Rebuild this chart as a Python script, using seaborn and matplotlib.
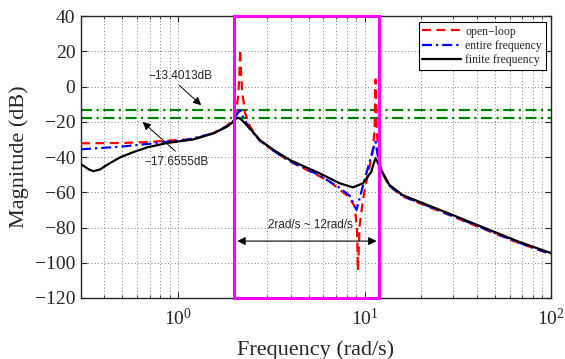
import matplotlib
matplotlib.use("Agg")
import matplotlib.pyplot as plt
from matplotlib.patches import Rectangle
import seaborn as sns
import pandas as pd

# values (frequency in rad/s, magnitude in dB)
freq_open = [0.30, 0.50, 0.68, 0.87, 1.2, 1.54, 1.82, 1.97, 2.05, 2.10, 2.13, 2.146, 2.17, 2.20,
             2.28, 2.43, 2.74, 3.3, 3.97, 5.75, 6.5, 7.35, 8.31, 8.85, 9.1, 9.21, 9.39, 9.8,
             10.4, 11.0, 11.3, 11.45, 11.6, 12.0, 12.4, 13.6, 16.0, 19.7, 29.7, 44.7, 67.4, 100]
mag_open = [-32.2, -32.0, -31.5, -30.7, -29.8, -26.4, -22.3, -19.0, -13.0, -4.0, 10.0, 21.0, 8.0, -3.0,
            -15.0, -22.8, -30.8, -37.0, -42.5, -51.0, -54.0, -58.5, -63.0, -68.2, -81.4, -104.5, -79.5, -64.0,
            -50.0, -38.0, -25.0, 4.0, -25.0, -42.0, -49.0, -56.5, -62.3, -66.2, -73.7, -81.3, -88.8, -95.2]

freq_entire = [0.30, 0.49, 0.68, 0.87, 1.1, 1.54, 1.82, 1.97, 2.08, 2.146, 2.22, 2.4, 2.74, 3.3,
               3.97, 5.75, 7.35, 8.31, 8.85, 9.05, 9.39, 9.99, 10.8, 11.3, 11.45, 11.7, 12.28, 13.6,
               16.0, 19.7, 29.7, 44.7, 67.4, 100]
mag_entire = [-35.6, -34.1, -32.6, -31.3, -30.3, -26.5, -22.5, -19.5, -15.0, -13.4, -17.0, -23.5, -30.6, -37.0,
              -42.3, -50.5, -57.5, -62.0, -68.0, -70.0, -63.5, -53.0, -40.0, -33.0, -31.3, -38.0, -47.8, -56.3,
              -62.1, -65.9, -73.4, -81.0, -88.6, -95.0]

freq_finite = [0.30, 0.33, 0.35, 0.38, 0.42, 0.49, 0.58, 0.68, 0.87, 1.2, 1.54, 1.82, 1.97, 2.04,
               2.10, 2.17, 2.4, 2.74, 3.3, 3.97, 5.75, 7.35, 8.66, 9.8, 10.86, 11.2, 11.45, 11.75,
               12.28, 13.6, 16.0, 19.7, 29.7, 44.7, 67.4, 100]
mag_finite = [-44.0, -47.0, -48.0, -47.0, -44.0, -40.0, -37.0, -34.5, -32.0, -30.0, -26.6, -22.8, -20.0, -18.2,
              -17.66, -18.6, -23.3, -30.4, -36.5, -41.7, -49.3, -54.9, -57.2, -54.9, -48.3, -43.5, -40.6, -43.0,
              -47.4, -55.9, -61.6, -65.4, -72.9, -80.5, -88.1, -94.5]

bound_levels = [-13.4013, -17.6555]
band = [2, 12]

sns.set_style("ticks")
plt.rcParams['font.family'] = ['Liberation Serif', 'DejaVu Serif']
plt.rcParams['mathtext.fontset'] = 'stix'
plt.rcParams['xtick.direction'] = 'in'
plt.rcParams['ytick.direction'] = 'in'

fig, ax = plt.subplots(figsize=(5.65, 3.59), dpi=100)
fig.subplots_adjust(left=0.1434, right=0.975, bottom=0.170, top=0.955)

df_open = pd.DataFrame({'freq': freq_open, 'mag': mag_open})
df_entire = pd.DataFrame({'freq': freq_entire, 'mag': mag_entire})
df_finite = pd.DataFrame({'freq': freq_finite, 'mag': mag_finite})

sns.lineplot(data=df_open, x='freq', y='mag', ax=ax, color='red', lw=1.6,
             estimator=None, sort=False, label='open\u2212loop', zorder=3)
ax.lines[-1].set_dashes((4, 2.5))
sns.lineplot(data=df_entire, x='freq', y='mag', ax=ax, color='blue', lw=1.6,
             estimator=None, sort=False, label='entire frequency', zorder=3)
ax.lines[-1].set_dashes((4.5, 1.8, 1, 1.8))
sns.lineplot(data=df_finite, x='freq', y='mag', ax=ax, color='black', lw=1.6,
             estimator=None, sort=False, label='finite frequency', zorder=4)

for lvl in bound_levels:
    ax.axhline(lvl, color=(0, 0.5, 0), lw=1.6, dashes=(5, 2, 1, 2), zorder=2)

ax.set_xscale('log')
ax.set_xlim(0.3, 100)
ax.set_ylim(-120, 40)
ax.set_yticks(range(-120, 41, 20))
ax.set_yticklabels([str(v).replace('-', '\u2212') for v in range(-120, 41, 20)])
ax.tick_params(which='both', top=True, right=True, labelsize=14)
ax.tick_params(which='major', length=4)
ax.tick_params(which='minor', length=2)
ax.tick_params(axis='x', which='major', pad=7)
ax.tick_params(axis='y', which='major', pad=4)
ax.grid(True, which='both', axis='x', ls=(0, (1, 3)), color='0.35', lw=0.6)
ax.grid(True, which='major', axis='y', ls=(0, (1, 3)), color='0.35', lw=0.6)
for sp in ax.spines.values():
    sp.set_linewidth(1.0)

ax.set_xlabel('Frequency (rad/s)', fontsize=16, labelpad=8)
ax.set_ylabel('Magnitude (dB)', fontsize=16, labelpad=4)

# frequency band box
ax.add_patch(Rectangle((band[0], -120), band[1] - band[0], 160, fill=False,
                       edgecolor='magenta', lw=2.2, clip_on=False, zorder=6))

ann = dict(fontsize=8.5, family=['Liberation Sans', 'DejaVu Sans'], ha='center', va='center')
arrow = dict(arrowstyle='-|>', color='black', lw=0.7, mutation_scale=12)
ax.annotate('', xy=(1.36, -11.6), xytext=(0.984, 1.8), arrowprops=arrow)
ax.text(1.025, 6.0, '\u221213.4013dB', **ann)
ax.annotate('', xy=(0.626, -19.0), xytext=(0.988, -37.7), arrowprops=arrow)
ax.text(0.976, -42.8, '\u221217.6555dB', **ann)
ax.annotate('', xy=(band[1], -87.7), xytext=(band[0], -87.7),
            arrowprops=dict(arrowstyle='<|-|>', color='black', lw=0.8, mutation_scale=12), zorder=7)
ax.text(5.1, -78.8, '2rad/s ~ 12rad/s', **ann)

leg = ax.legend(loc='upper right', bbox_to_anchor=(0.989, 0.979), borderaxespad=0, fontsize=8.5,
                handlelength=3.3, handletextpad=0.35, borderpad=0.3, labelspacing=0.2,
                fancybox=False, framealpha=1, edgecolor='black')
leg.get_frame().set_linewidth(0.8)

fig.savefig('out.png', dpi=100)
